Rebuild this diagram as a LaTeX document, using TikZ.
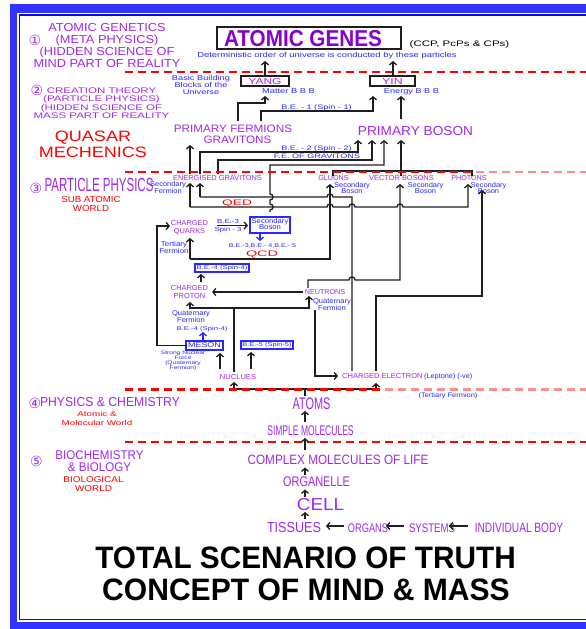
\documentclass[tikz,border=0pt]{standalone}
\usepackage{fontspec}
\setmainfont{Liberation Sans}
\newfontfamily\djv{DejaVu Sans}
\usepackage{graphicx}
\usetikzlibrary{arrows.meta}
\definecolor{vio}{RGB}{160,40,235}
\definecolor{dvio}{RGB}{136,0,204}
\definecolor{tblue}{RGB}{40,40,255}
\definecolor{fblue}{RGB}{51,51,255}
\definecolor{fdblue}{RGB}{10,10,220}
\definecolor{ired}{RGB}{255,0,0}
\definecolor{pinkd}{RGB}{255,140,140}
\definecolor{lnc}{RGB}{30,30,30}
\newcommand\sx[2]{\scalebox{#1}[1]{#2}}
\newcommand\sxm[2]{\scalebox{#1}[1]{\begin{tabular}[t]{@{}c@{}}#2\end{tabular}}}
\newcommand\sxc[2]{\scalebox{#1}[1]{\begin{tabular}{@{}c@{}}#2\end{tabular}}}
\tikzset{
  txt/.style={inner sep=1pt, anchor=base},
  fs/.style 2 args={font=\fontsize{#1}{#2}\selectfont},
  circ/.style={inner sep=1pt, anchor=base, text=vio, font=\djv\fontsize{14}{14}\selectfont},
  ln/.style={line width=1.3pt, draw=lnc},
  ar/.style={ln, -{Straight Barb[length=3pt,width=7pt]}},
  bar/.style={line width=1.3pt, draw=tblue, -{Straight Barb[length=3pt,width=7pt]}},
  dsh/.style={draw=ired, line width=2.2pt, dash pattern=on 8pt off 5pt},
  bbox/.style={draw=tblue, line width=1.2pt, inner sep=0pt, fill=white},
  kbox/.style={draw=lnc, line width=1.2pt, inner sep=0pt, fill=white}
}
\begin{document}
\begin{tikzpicture}[x=1pt,y=-1pt]
\useasboundingbox (0,0) rectangle (586,629);
% frame
\fill[fblue] (10,4) rectangle (640,640);
\fill[white] (17,13) rectangle (630,621.5);
\draw[fdblue, line width=1.5pt] (19.5,14.8) rectangle (630,619.5);
% dashed separators (under)
\draw[dsh] (125,72) -- (586,72);
\draw[dsh] (125,442) -- (586,442);

% ---------- zone 1
\node[circ] (c1) at (35,45) {①};
\node[txt,fs={11.6}{11.7},vio] (ag1) at (107,31.7) {\sxm{1.1}{ATOMIC GENETICS\\(META PHYSICS)\\(HIDDEN SCIENCE OF\\MIND PART OF REALITY}};
\node[kbox, minimum width=184pt, minimum height=22pt] (agbox) at (309,38) {};
\node[txt,fs={23}{23},dvio] (agt) at (303,46) {\sx{0.9}{\bfseries ATOMIC GENES}};
\node[txt,fs={8}{8}] (ccp) at (459.5,46) {\sx{1.44}{(CCP, PcPs \& CPs)}};
\node[txt,fs={7.2}{7.2},tblue] (det) at (327,57.3) {\sx{1.31}{Deterministic order of universe is conducted by these particles}};

% ---------- zone 2
\node[circ] (c2) at (37,95) {②};
\node[txt,fs={8.1}{8.33},vio] (ct) at (101.5,93.3) {\sxm{1.42}{CREATION THEORY\\(PARTICLE PHYSICS)\\(HIDDEN SCIENCE OF\\MASS PART OF REALITY}};
\node[txt,fs={15}{15.6},ired] (qm) at (93,141.7) {\sxm{1.2}{QUASAR\\MECHENICS}};
\node[kbox, minimum width=48pt, minimum height=10pt, text=vio, fs={8.8}{8.8}] (yang) at (265,81) {\sx{1.36}{YANG}};
\node[kbox, minimum width=45pt, minimum height=10pt, text=vio, fs={8.8}{8.8}] (yin) at (392.5,81) {\sx{1.4}{YIN}};
\node[txt,fs={7}{7.2},tblue] (bbb) at (201,80) {\sxm{1.32}{Basic Building\\Blocks of the\\Universe}};
\node[txt,fs={7}{7},tblue] (mat) at (288.5,93.3) {\sx{1.33}{Matter B B B}};
\node[txt,fs={7}{7},tblue] (ene) at (411.5,93.3) {\sx{1.31}{Energy B B B}};
\node[txt,fs={6.5}{6.5},tblue] (be1) at (316.5,109.5) {\sx{1.4}{B.E. - 1 (Spin - 1)}};
\node[txt,fs={10.75}{10.75},vio] (pf1) at (233,132.7) {\sx{1.09}{PRIMARY FERMIONS}};
\node[txt,fs={10.75}{10.75},vio] (pf2) at (237.5,143.3) {\sx{1.09}{GRAVITONS}};
\node[txt,fs={13}{13},vio] (pb) at (415.5,135) {\sx{1.05}{PRIMARY BOSON}};
\node[txt,fs={6.5}{6.5},tblue] (be2) at (316.5,150.5) {\sx{1.4}{B.E. - 2 (Spin - 2)}};
\node[txt,fs={6.5}{6.5},tblue] (feg) at (317,158.5) {\sx{1.4}{F.E. OF GRAVITONS}};

% ---------- zone 3
\node[circ] (c3) at (36,193) {③};
\node[txt,fs={19}{19},vio] (pp) at (99,191.5) {\sx{0.606}{PARTICLE PHYSICS}};
\node[txt,fs={8.8}{9},ired] (saw) at (91,202.3) {\sxm{1.1}{SUB ATOMIC\\WORLD}};
\node[txt,fs={7}{7},tblue] (sf) at (168,186.5) {\sxm{1.07}{Secondary\\Fermion}};
\node[txt,fs={7.2}{7.2},vio] (eg) at (217.5,180) {\sx{1.03}{ENERGISED GRAVITONS}};
\node[txt,fs={7.2}{7.2},vio] (glu) at (333.5,180) {GLUONS};
\node[txt,fs={7.2}{7.2},vio] (vb) at (401.5,180) {\sx{1.03}{VECTOR BOSONS}};
\node[txt,fs={7.2}{7.2},vio] (pho) at (469,180) {PHOTONS};
\node[txt,fs={7}{6.8},tblue] (sb1) at (352,187) {\sxm{1.07}{Secondary\\Boson}};
\node[txt,fs={7}{6.8},tblue] (sb2) at (425.5,187) {\sxm{1.07}{Secondary\\Boson}};
\node[txt,fs={7}{6.8},tblue] (sb3) at (488.5,187) {\sxm{1.07}{Secondary\\Boson}};
\node[txt,fs={8}{8},ired] (qed) at (237,205) {\sx{1.73}{QED}};
\node[txt,fs={8}{8},ired] (qcd) at (262,256.7) {\sx{1.8}{QCD}};
\node[txt,fs={7.2}{8.3},vio] (cq) at (189.5,225) {\sxm{1.03}{CHARGED\\QUARKS}};
\node[txt,fs={7}{7},tblue] (tf) at (174,246.5) {\sxm{1.14}{Tertiary\\Fermion}};
\node[txt,fs={6}{6},tblue] (be3) at (228,223) {\sx{1.3}{B.E.-3}};
\node[txt,fs={6}{6},tblue] (sp3) at (228,231) {\sx{1.3}{Spin - 3}};
\node[bbox, minimum width=40pt, minimum height=16pt, text=tblue, fs={7}{6.4}] (sbx) at (270,225) {\sxc{1.1}{Secondary\\Boson}};
\node[txt,fs={5.5}{5.5},tblue] (be345) at (262.5,247) {\sx{1.29}{B.E.-3,B.E.- 4,B.E.- 5}};
\node[bbox, minimum width=54pt, minimum height=8pt, text=tblue, fs={5.5}{5.5}] (be4b) at (222,268) {\sx{1.4}{B.E.-4 (Spin-4)}};
\node[txt,fs={7.2}{8.3},vio] (cp) at (189.5,290) {\sxm{1.03}{CHARGED\\PROTON}};
\node[txt,fs={7.2}{7.2},vio] (neu) at (325,294) {NEUTRONS};
\node[txt,fs={7}{7},tblue] (qf1) at (332,303) {\sxm{1.08}{Quaternary\\Fermion}};
\node[txt,fs={7}{6.8},tblue] (qf2) at (191,315.7) {\sxm{1.08}{Quaternary\\Fermion}};
\node[txt,fs={5.5}{5.5},tblue] (be4) at (202,330) {\sx{1.4}{B.E.-4 (Spin-4)}};
\node[bbox, minimum width=37pt, minimum height=9pt, text=tblue, fs={7}{7}] (mes) at (204.5,345.5) {\sx{1.28}{MESON}};
\node[txt,fs={5}{4.4},tblue] (snf) at (183,354.5) {\sxm{1.33}{Strong Nuclear\\Force\\(Quaternary\\Fermion)}};
\node[bbox, minimum width=52pt, minimum height=8pt, text=tblue, fs={5.5}{5.5}] (be5) at (267,345) {\sx{1.35}{B.E.-5 (Spin-5)}};
\node[txt,fs={7.2}{7.2},vio] (nuc) at (238,379) {\sx{1.05}{NUCLUES}};
\node[txt,fs={7.2}{7.2},vio,anchor=base west] (ele) at (341,378.5) {\sx{1.04}{CHARGED ELECTRON}};
\node[txt,fs={7}{7},tblue,anchor=base west] (lep) at (423,378.5) {\sx{1.04}{(Leptone) (-ve)}};
\node[txt,fs={6.5}{6.5},tblue] (tf2) at (448,397.5) {\sx{1.15}{(Tertiary Fermion)}};

% ---------- zones 4, 5
\node[circ] (c4) at (35,408) {④};
\node[txt,fs={13.1}{13},vio] (pc) at (110,406.7) {\sx{0.93}{PHYSICS \& CHEMISTRY}};
\node[txt,fs={7}{8.6},ired] (amw) at (97,416.7) {\sxm{1.4}{Atomic \&\\Molecular World}};
\node[circ] (c5) at (36.5,466) {⑤};
\node[txt,fs={12.6}{12.7},vio] (bb) at (99.5,459) {\sxm{0.92}{BIOCHEMISTRY\\\& BIOLOGY}};
\node[txt,fs={8.4}{8.7},ired] (bw) at (93.5,482.3) {\sxm{1.18}{BIOLOGICAL\\WORLD}};

\node[txt,fs={16.8}{16.8},vio] (atoms) at (311.5,409.3) {\sx{0.65}{ATOMS}};
\node[txt,fs={14}{14},vio] (sm) at (310.5,435) {\sx{0.61}{SIMPLE MOLECULES}};
\node[txt,fs={13.5}{13.5},vio] (cml) at (338,464) {\sx{0.87}{COMPLEX MOLECULES OF LIFE}};
\node[txt,fs={14}{14},vio] (org) at (316.5,486.7) {\sx{0.78}{ORGANELLE}};
\node[txt,fs={17.3}{17.3},vio] (cell) at (320.5,510.7) {\sx{1.09}{CELL}};
\node[txt,fs={14.5}{14.5},vio] (tis) at (294,532) {\sx{0.87}{TISSUES}};
\node[txt,fs={12.5}{12.5},vio] (orgs) at (368,532) {\sx{0.74}{ORGANS}};
\node[txt,fs={12.5}{12.5},vio] (sys) at (432,532) {\sx{0.77}{SYSTEMS}};
\node[txt,fs={13.5}{13.5},vio] (ib) at (519,532) {\sx{0.75}{INDIVIDUAL BODY}};

\node[txt,fs={31}{31}] (t1) at (305.5,568.3) {\sx{0.96}{\bfseries TOTAL SCENARIO OF TRUTH}};
\node[txt,fs={31}{31}] (t2) at (306,600.5) {\sx{0.97}{\bfseries CONCEPT OF MIND \& MASS}};

% ---------- connectors
\coordinate (detA) at (265,61);
\coordinate (detB) at (393,61);
\draw[ar] (yang) -- (detA);
\draw[ar] (yin.north -| detB) -- (detB);
\coordinate (pfA) at (238,121); \coordinate (yangS) at (265,96);
\draw[ar] (pfA) -- ++(0,-18) -| (yangS);
\coordinate (pfB) at (261,121); \coordinate (yinS) at (373,96);
\draw[ar] (pfB) -- ++(0,-10) -| (yinS);
\coordinate (pbN) at (401,119); \coordinate (yinS2) at (401,96);
\draw[ar] (pbN) -- (yinS2);

\coordinate (egN1) at (190,174); \coordinate (pfS) at (190,145);
\draw[ar] (egN1) -- (pfS);
\coordinate (egN2) at (200,174); \coordinate (pbS1) at (358,140);
\draw[ar] (egN2) -- ++(0,-22) -| (pbS1);
\coordinate (egN3) at (218,174); \coordinate (pbS2) at (372,140);
\draw[ar] (egN3) -- ++(0,-14) -| (pbS2);
\coordinate (qedT) at (270,212); \coordinate (pbS3) at (384,140);
\draw[ar] (qedT) -- (270,210) .. controls (274,210) and (274,204) .. (270,204) -- (270,200) .. controls (274,200) and (274,194) .. (270,194) -- (270,165) -| (pbS3);

\coordinate (vbN) at (401,176); \coordinate (pbS4) at (401,140);
\draw[ar] (vbN) -- (pbS4);
\coordinate (gluN) at (333,176); \coordinate (phoN) at (472,176);
\draw[ln] (gluN) -- ++(0,-5) -- ++(139,0) -- (phoN);

\coordinate (q207) at (190,207); \coordinate (egS1) at (190,183); \coordinate (phoS) at (468,184);
\draw[ar] (q207) -- (egS1);
\draw[ar] (q207) -- (327,207) .. controls (327,203) and (333,203) .. (333,207) -- (349,207) .. controls (349,203) and (355,203) .. (355,207) -- (397,207) .. controls (397,203) and (403,203) .. (403,207) -| (phoS);
\coordinate (q197) at (200,197); \coordinate (egS2) at (200,183); \coordinate (eleN1) at (352,371);
\draw[ar] (q197) -- (egS2);
\draw[ln] (q197) -- (327,197) .. controls (327,193) and (333,193) .. (333,197) -- (352,197) -- (eleN1);

\coordinate (g259) at (190,259); \coordinate (cqS) at (190,238); \coordinate (gluS) at (330,184);
\draw[ar] (g259) -- (cqS);
\draw[ar] (g259) -| (gluS);

\coordinate (neuN) at (308,288); \coordinate (vbS) at (400,184);
\draw[ar] (neuN) -- ++(0,-8) -- (349,280) .. controls (349,276) and (355,276) .. (355,280) -| (vbS);

\coordinate (eleN2) at (376,371); \coordinate (phoS2) at (482,190);
\draw[ar] (eleN2) -- ++(0,-75) -| (phoS2);

\coordinate (neuW) at (303,292); \coordinate (cpE) at (212,292);
\draw[ar] (neuW) -- (cpE);

\coordinate (nucN) at (234,372); \coordinate (j308) at (234,308);
\coordinate (cpS) at (190,302); \coordinate (neuS) at (309,296);
\draw[ln] (nucN) -- (j308);
\draw[ar] (j308) -| (cpS);
\draw[ar] (j308) -| (neuS);

\coordinate (neuS2) at (315,310); \coordinate (eleW) at (338,376);
\draw[ar] (neuS2) |- (eleW);

\coordinate (mesW) at (186,345.5); \coordinate (cqW) at (170,226);
\draw[ar] (mesW) -- ++(-29,0) |- (cqW);

\coordinate (nucA) at (220,369); \coordinate (mesS) at (220,353);
\draw[ar] (nucA) -- (mesS);
\coordinate (nucB) at (251,369); \coordinate (be5S) at (251,352);
\draw[ar] (nucB) -- (be5S);

\coordinate (mesN) at (203,341); \coordinate (be4S) at (203,332);
\draw[bar] (mesN) -- (be4S);
\coordinate (sbxS) at (260,233); \coordinate (be345N) at (260,241);
\draw[bar] (sbxS) -- (be345N);
\coordinate (cpN) at (201,282); \coordinate (be4bS) at (201,274);
\draw[ar] (cpN) -- (be4bS);
\coordinate (cqE) at (217,225.5); \coordinate (sbxW) at (248,225.5);
\draw[ar] (cqE) -- (sbxW);

\coordinate (atN) at (305,396); \coordinate (a389) at (305,389);
\coordinate (n389) at (234,389); \coordinate (e389) at (376,389);
\coordinate (nucS) at (234,382); \coordinate (eleS) at (376,383);
\draw[ln] (atN) -- (a389);
\draw[ln] (n389) -- (e389);
\draw[ar] (n389) -- (nucS);
\draw[ar] (e389) -- (eleS);

\coordinate (smN) at (305,422); \coordinate (atS) at (305,411);
\draw[ar] (smN) -- (atS);
\coordinate (cmlN) at (305,450); \coordinate (smS) at (305,438);
\draw[ar] (cmlN) -- (smS);
\coordinate (orgN) at (305,475); \coordinate (cmlS) at (305,467.5);
\draw[ar] (orgN) -- (cmlS);
\coordinate (cellN) at (305,497); \coordinate (orgS) at (305,489.5);
\draw[ar] (cellN) -- (orgS);
\coordinate (tisN) at (305,518.5); \coordinate (cellS) at (305,512);
\draw[ar] (tisN) -- (cellS);
\coordinate (orgsW) at (344,526); \coordinate (tisE) at (326,526);
\draw[ar] (orgsW) -- (tisE);
\coordinate (sysW) at (404,526); \coordinate (orgsE) at (386,526);
\draw[ar] (sysW) -- (orgsE);
\coordinate (ibW) at (468,526); \coordinate (sysE) at (449,526);
\draw[ar] (ibW) -- (sysE);

% dashed separators (over)
\draw[dsh] (125,172) -- (586,172);
\begin{scope}
  \clip (476,160) rectangle (586,185);
  \draw[dsh, draw=pinkd] (125,172) -- (586,172);
\end{scope}
\draw[dsh] (125,389.5) -- (586,389.5);
\begin{scope}
  \clip (380,380) rectangle (586,400);
  \draw[dsh, draw=pinkd] (125,389.5) -- (586,389.5);
\end{scope}
\end{tikzpicture}
\end{document}
